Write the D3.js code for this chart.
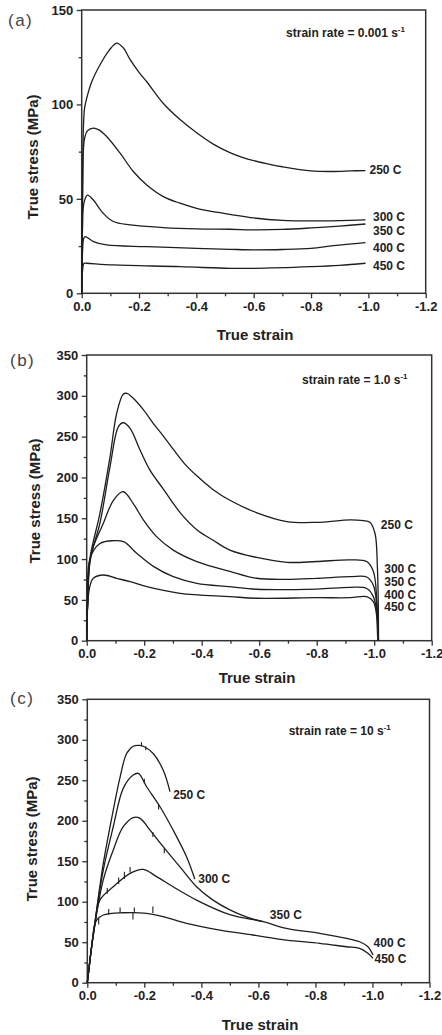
<!DOCTYPE html>
<html>
<head>
<meta charset="utf-8">
<script src="https://cdn.jsdelivr.net/npm/d3@7/dist/d3.min.js"></script>
<style>
body { margin: 0; background: #fff; }
text { font-family: Arial, "Liberation Sans", sans-serif; }
</style>
</head>
<body>
<script>

var width = 442, height = 1035;

// ---- shared ticks / labels
var temps = ["250 C", "300 C", "350 C", "400 C", "450 C"];
var xTicks = [0, -0.2, -0.4, -0.6, -0.8, -1.0, -1.2];
var xMinor = [-0.1, -0.3, -0.5, -0.7, -0.9, -1.1];
var yTicksA = [0, 50, 100, 150];
var yMinorA = [25, 75, 125];
var yTicksBC = [0, 50, 100, 150, 200, 250, 300, 350];
var yMinorBC = [25, 75, 125, 175, 225, 275, 325];

// ---- (a) strain rate 0.001 s-1   [true strain, true stress MPa]
var a250 = [[0,0],[-0.003,55],[-0.006,88],[-0.01,98],[-0.017,103],[-0.035,112],[-0.064,121],[-0.095,128.5],[-0.122,132.5],[-0.145,130],[-0.168,124],[-0.2,117],[-0.227,112],[-0.285,100.5],[-0.343,92],[-0.401,85],[-0.459,79],[-0.517,74.5],[-0.56,72],[-0.6,70.2],[-0.65,68.5],[-0.7,67],[-0.8,64.8],[-0.877,64.5],[-0.94,64.8],[-0.99,65]];
var a300 = [[0,0],[-0.003,50],[-0.006,76],[-0.01,82],[-0.02,86],[-0.041,87.5],[-0.06,86.5],[-0.087,83],[-0.134,74.2],[-0.18,64.5],[-0.227,57.4],[-0.285,51.2],[-0.343,47.7],[-0.401,45],[-0.459,43.2],[-0.517,41.8],[-0.6,39.9],[-0.7,38.6],[-0.8,38.3],[-0.9,38.5],[-0.99,38.9]];
var a350 = [[0,0],[-0.003,35],[-0.008,48],[-0.02,52],[-0.04,49.5],[-0.075,42.4],[-0.11,38],[-0.169,36.2],[-0.285,34.8],[-0.401,34.1],[-0.517,33.9],[-0.6,33.6],[-0.7,33.8],[-0.8,34.6],[-0.9,35.6],[-0.99,36.7]];
var a400 = [[0,0],[-0.003,22],[-0.007,29],[-0.012,30],[-0.041,27.4],[-0.087,25.6],[-0.227,24.7],[-0.4,23.8],[-0.517,23.3],[-0.6,23],[-0.7,23.2],[-0.8,23.8],[-0.878,25.2],[-0.99,26.8]];
var a450 = [[0,0],[-0.003,12],[-0.008,15.9],[-0.017,15.9],[-0.11,15],[-0.343,14.1],[-0.517,13.2],[-0.6,13.2],[-0.8,14.1],[-0.9,14.8],[-0.99,15.9]];

// ---- (b) strain rate 1.0 s-1
var b250 = [[0,0],[-0.003,45],[-0.011,100],[-0.046,156],[-0.081,225],[-0.104,278],[-0.127,302],[-0.14,303],[-0.162,297],[-0.197,283],[-0.232,266],[-0.266,251],[-0.3,235],[-0.34,217],[-0.383,202],[-0.44,185],[-0.498,172],[-0.59,157],[-0.696,146],[-0.8,145],[-0.916,148],[-0.962,147],[-0.985,145],[-1.003,131],[-1.011,91],[-1.014,50],[-1.015,5],[-1.0152,0]];
var b300 = [[0,0],[-0.003,45],[-0.011,98],[-0.046,144],[-0.081,213],[-0.11,262],[-0.127,267],[-0.151,260],[-0.185,234],[-0.22,209],[-0.266,186],[-0.325,157],[-0.383,136],[-0.44,123],[-0.498,111],[-0.591,102],[-0.696,96],[-0.8,97],[-0.916,99],[-0.974,97],[-0.997,85],[-1.009,50],[-1.013,5],[-1.0132,0]];
var b350 = [[0,0],[-0.003,45],[-0.011,95],[-0.023,115],[-0.058,144],[-0.093,172],[-0.127,182.5],[-0.162,168],[-0.197,148],[-0.243,127.5],[-0.301,111],[-0.383,97],[-0.498,85],[-0.591,76.5],[-0.696,75.2],[-0.8,76.4],[-0.916,78.4],[-0.974,78],[-0.997,68],[-1.009,42],[-1.012,5],[-1.0122,0]];
var b400 = [[0,0],[-0.003,45],[-0.011,100],[-0.046,119],[-0.093,122.5],[-0.13,121],[-0.174,107],[-0.232,91],[-0.301,78.4],[-0.383,70.3],[-0.498,66.2],[-0.591,63],[-0.8,63.3],[-0.916,65.4],[-0.974,64],[-0.997,54],[-1.009,34],[-1.012,5],[-1.0122,0]];
var b450 = [[0,0],[-0.003,40],[-0.01,65],[-0.023,76.4],[-0.058,80.5],[-0.104,76.4],[-0.151,72.3],[-0.209,66.2],[-0.325,58],[-0.498,54],[-0.591,52],[-0.8,52.7],[-0.916,52.7],[-0.974,54],[-0.997,47.8],[-1.009,29.4],[-1.012,5],[-1.0122,0]];

// ---- (c) strain rate 10 s-1
var c250 = [[0,0],[-0.005,15],[-0.015,44],[-0.027,75],[-0.056,147],[-0.091,213],[-0.115,254],[-0.138,283],[-0.161,292],[-0.18,293],[-0.196,292],[-0.231,283],[-0.266,262.6],[-0.29,236]];
var c300 = [[0,0],[-0.005,15],[-0.015,44],[-0.027,75],[-0.056,139],[-0.091,192.6],[-0.126,240],[-0.161,256.4],[-0.179,258.5],[-0.208,242],[-0.255,217.3],[-0.301,188.5],[-0.348,155.6],[-0.377,128]];
var c350 = [[0,0],[-0.005,15],[-0.015,44],[-0.027,73],[-0.056,127],[-0.091,164],[-0.126,192.6],[-0.161,204],[-0.185,203],[-0.22,188.5],[-0.266,168],[-0.325,143],[-0.383,118.5],[-0.441,102],[-0.5,90],[-0.56,81],[-0.617,75.3]];
var c400 = [[0,0],[-0.005,15],[-0.015,44],[-0.027,72],[-0.044,102],[-0.091,118.5],[-0.15,135],[-0.196,140],[-0.243,131],[-0.301,118.5],[-0.383,102],[-0.5,84],[-0.617,75.3],[-0.698,67.1],[-0.815,61],[-0.909,54.8],[-0.955,50.6],[-0.984,44.4],[-1.002,34.2]];
var c450 = [[0,0],[-0.005,15],[-0.015,44],[-0.025,70],[-0.033,77.4],[-0.056,83.6],[-0.126,86.4],[-0.208,85.7],[-0.266,81.5],[-0.348,73.3],[-0.465,65],[-0.581,58.9],[-0.698,52.7],[-0.815,48.6],[-0.909,44.4],[-0.955,42.5],[-0.984,36.3],[-1.002,30.1]];
// noise spikes in the 10 s-1 records: [strain, from stress, to stress]
var cSpikes = [[-0.04,80,72],[-0.075,84,91],[-0.115,86,93],[-0.16,86,78],[-0.165,86,93],[-0.23,86,94],
               [-0.07,110,117],[-0.11,122,130],[-0.13,128,137],[-0.15,136,143],
               [-0.23,186,180],[-0.27,166,160],[-0.2,246,252],[-0.25,220,214],
               [-0.19,292,297],[-0.205,292,287]];

var svg = d3.select("body").append("svg")
    .attr("width", width)
    .attr("height", height);

var panels = [
  { tag: "(a)", rate: "0.001", top: 10, bottom: 293.3, left: 81.7, right: 425.7,
    yMax: 150, yTicks: yTicksA, yMinor: yMinorA,
    series: [a250, a300, a350, a400, a450],
    labels: [[-1.004,63.2],[-1.016,38.3],[-1.016,31.1],[-1.016,22.1],[-1.016,12.3]],
    note: [-0.713,135.7], tagPos: [8, 26], yTitle: [33, 157], xTitle: [255, 340] },
  { tag: "(b)", rate: "1.0", top: 355, bottom: 640.7, left: 86.7, right: 431.7,
    yMax: 350, yTicks: yTicksBC, yMinor: yMinorBC,
    series: [b250, b300, b350, b400, b450],
    labels: [[-1.023,136.8],[-1.035,83.5],[-1.035,67.6],[-1.035,51.1],[-1.035,36.4]],
    note: [-0.749,314.5], tagPos: [10, 366], yTitle: [35, 501], xTitle: [257, 683] },
  { tag: "(c)", rate: "10", top: 699.3, bottom: 982.7, left: 87.3, right: 429.5,
    yMax: 350, yTicks: yTicksBC, yMinor: yMinorBC,
    series: [c250, c300, c350, c400, c450], spikes: cSpikes,
    labels: [[-0.301,226.9],[-0.389,123.7],[-0.64,78.7],[-1.004,43.5],[-1.007,24]],
    note: [-0.706,306], tagPos: [10, 704], yTitle: [32, 839], xTitle: [260, 1030] }
];

panels.forEach(drawPanel);

function drawPanel(p) {
  var g = svg.append("g");
  var x = d3.scaleLinear().domain([0, -1.2]).range([p.left, p.right]);
  var y = d3.scaleLinear().domain([0, p.yMax]).range([p.bottom, p.top]);

  // minor ticks first, then majors
  g.append("g").attr("class", "axis")
    .attr("transform", "translate(0," + p.bottom + ")")
    .call(d3.axisBottom(x).tickValues(xMinor).tickSize(3).tickFormat(""));
  g.append("g").attr("class", "axis")
    .attr("transform", "translate(0," + p.bottom + ")")
    .call(d3.axisBottom(x).tickValues(xTicks).tickSize(5).tickPadding(3)
      .tickFormat(function (d) { return d.toFixed(1); }));
  g.append("g").attr("class", "axis")
    .attr("transform", "translate(" + p.left + ",0)")
    .call(d3.axisLeft(y).tickValues(p.yMinor).tickSize(3).tickFormat(""));
  g.append("g").attr("class", "axis")
    .attr("transform", "translate(" + p.left + ",0)")
    .call(d3.axisLeft(y).tickValues(p.yTicks).tickSize(5).tickPadding(3.5));

  g.selectAll(".axis .domain").remove();
  g.selectAll(".axis line").attr("stroke", "#333").attr("stroke-width", 1.3);
  g.selectAll(".axis text")
    .attr("fill", "#222")
    .style("font-size", "13px")
    .style("font-weight", "bold");

  g.append("rect")
    .attr("x", p.left).attr("y", p.top)
    .attr("width", p.right - p.left).attr("height", p.bottom - p.top)
    .attr("fill", "none").attr("stroke", "#333").attr("stroke-width", 1.5);

  var line = d3.line()
    .x(function (d) { return x(d[0]); })
    .y(function (d) { return y(d[1]); })
    .curve(d3.curveCatmullRom.alpha(0.5));

  g.selectAll(".curve")
    .data(p.series)
    .enter().append("path")
    .attr("class", "curve")
    .attr("d", line)
    .attr("fill", "none")
    .attr("stroke", "#1e1e1e")
    .attr("stroke-width", 1.3);

  if (p.spikes) {
    g.selectAll(".spike")
      .data(p.spikes)
      .enter().append("line")
      .attr("x1", function (d) { return x(d[0]); })
      .attr("x2", function (d) { return x(d[0]); })
      .attr("y1", function (d) { return y(d[1]); })
      .attr("y2", function (d) { return y(d[2]); })
      .attr("stroke", "#1e1e1e")
      .attr("stroke-width", 1.1);
  }

  // temperature labels
  g.selectAll(".tlab")
    .data(p.labels)
    .enter().append("text")
    .attr("x", function (d) { return x(d[0]); })
    .attr("y", function (d) { return y(d[1]); })
    .attr("fill", "#222")
    .style("font-size", "12px")
    .style("font-weight", "bold")
    .text(function (d, i) { return temps[i]; });

  // strain rate note
  var note = g.append("text")
    .attr("x", x(p.note[0]))
    .attr("y", y(p.note[1]))
    .attr("fill", "#222")
    .style("font-size", "12px")
    .style("font-weight", "bold");
  note.append("tspan").text("strain rate = " + p.rate + " s");
  note.append("tspan").attr("dy", -5).style("font-size", "8px").text("-1");

  // panel tag
  g.append("text")
    .attr("x", p.tagPos[0]).attr("y", p.tagPos[1])
    .attr("fill", "#444")
    .style("font-size", "17px")
    .style("letter-spacing", "1.5px")
    .text(p.tag);

  g.append("text")
    .attr("transform", "translate(" + p.yTitle[0] + "," + p.yTitle[1] + ") rotate(-90)")
    .attr("text-anchor", "middle")
    .attr("dy", "0.35em")
    .attr("fill", "#222")
    .style("font-size", "15px")
    .style("font-weight", "bold")
    .text("True stress (MPa)");

  g.append("text")
    .attr("x", p.xTitle[0]).attr("y", p.xTitle[1])
    .attr("text-anchor", "middle")
    .attr("fill", "#222")
    .style("font-size", "15px")
    .style("font-weight", "bold")
    .text("True strain");
}

</script>
</body>
</html>
